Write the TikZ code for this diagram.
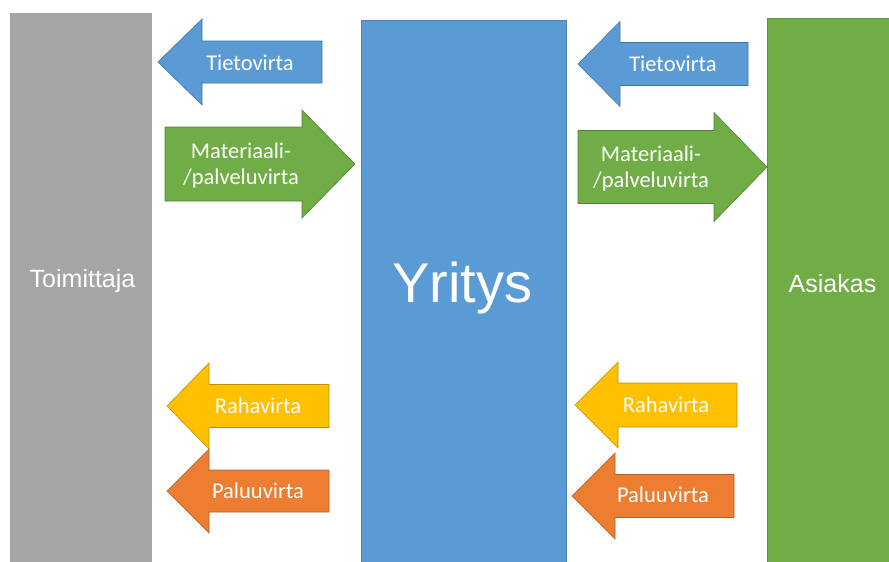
\documentclass[tikz,border=0pt]{standalone}
\usepackage{fontspec}
\setmainfont{Carlito}
\newfontfamily\partyfont{Liberation Sans}

\definecolor{partygray}{HTML}{A5A5A5}
\definecolor{tieto}{HTML}{5B9BD5}
\definecolor{materia}{HTML}{70AD47}
\definecolor{raha}{HTML}{FFC000}
\definecolor{paluu}{HTML}{ED7D31}

\tikzset{
    party/.style={anchor=north west, inner sep=0pt, fill=#1, draw=#1!85!black, line width=.6pt},
    partylabel/.style={anchor=base, text=white, inner sep=0pt, font=\partyfont\fontsize{25}{30}\selectfont},
    flowarrow/.style={fill=#1, draw=#1!75!black, line width=.6pt, line join=miter},
    flowlabel/.style={anchor=base, text=white, align=center, inner sep=0pt, font=\fontsize{22.5}{26}\selectfont}
}

\begin{document}
\begin{tikzpicture}[x=1pt, y=-1pt]
    \useasboundingbox (0,0) rectangle (889,562);

    % osapuolet
    \node[party=partygray, draw=none, minimum width=142pt, minimum height=560pt] (toimittaja) at (10,13) {};
    \node[party=tieto, minimum width=205pt, minimum height=560pt] (yritys) at (361,20) {};
    \node[party=materia, minimum width=140pt, minimum height=560pt] (asiakas) at (767,18) {};

    \node[partylabel] (toimittaja-label) at (82.5,287) {Toimittaja};
    \node[partylabel, font=\partyfont\fontsize{56}{60}\selectfont] (yritys-label) at (462,302) {Yritys};
    \node[partylabel] (asiakas-label) at (832.5,292) {Asiakas};

    % virrat: karki / nuolen kannan x / hanta / keski-y / varren puolileveys / karjen puolileveys
    \foreach \tip/\base/\tail/\cy/\hs/\hh/\col/\lx/\ly/\txt [count=\i] in {
        158/202/322/62/21/43/tieto/250/70/Tietovirta,
        578/620/748/64/21.5/42.5/tieto/673/71/Tietovirta,
        167/209/329/406/21.5/43/raha/258/413/Rahavirta,
        575/618/737/405/22/43/raha/666/412/Rahavirta,
        167/209/329/491/21/42/paluu/258/498/Paluuvirta,
        572/615/734/496/21.5/43/paluu/663/502/Paluuvirta,
        355/302/165/164/37/54/materia/241/184/{Materiaali-\\/palveluvirta},
        767/714/578/167/36.5/54.5/materia/651/187/{Materiaali-\\/palveluvirta}}{
        \filldraw[flowarrow=\col] (\tip,\cy) -- (\base,\cy-\hh) -- (\base,\cy-\hs)
            -- (\tail,\cy-\hs) -- (\tail,\cy+\hs) -- (\base,\cy+\hs)
            -- (\base,\cy+\hh) -- cycle;
        \node[flowlabel] (flow-\i) at (\lx,\ly) {\txt};
    }
\end{tikzpicture}
\end{document}
